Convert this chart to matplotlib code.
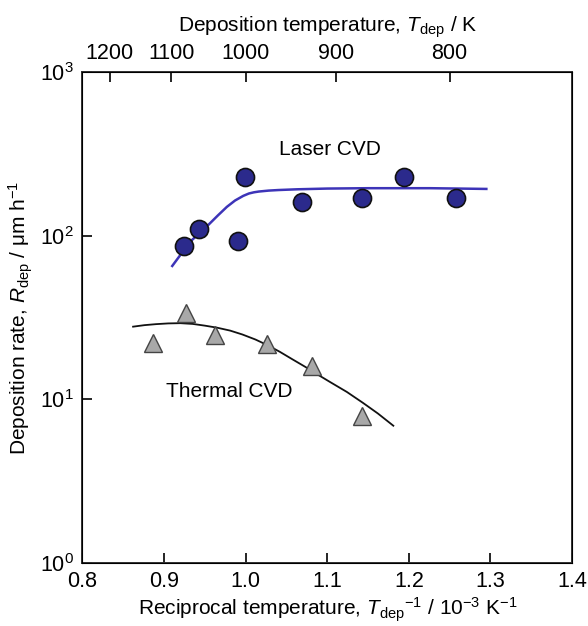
import numpy as np
import matplotlib
matplotlib.use("Agg")
import matplotlib.pyplot as plt

plt.rcParams['font.family'] = ['Liberation Sans', 'DejaVu Sans']
plt.rcParams['mathtext.fontset'] = 'custom'
plt.rcParams['mathtext.rm'] = 'Liberation Sans'
plt.rcParams['mathtext.it'] = 'Liberation Sans:italic'
plt.rcParams['mathtext.default'] = 'regular'
plt.rcParams['axes.unicode_minus'] = False

# Laser CVD data
laser_x = [0.925, 0.943, 0.990, 0.999, 1.069, 1.143, 1.194, 1.258]
laser_y = [86.5, 110, 93, 229, 161, 171, 229, 169]
laser_fit_x = [0.910, 0.932, 0.954, 0.966, 0.977, 0.987, 0.997, 1.004, 1.010, 1.016, 1.028, 1.040,
               1.063, 1.100, 1.150, 1.226, 1.295]
laser_fit_y = [65.3, 91.9, 116, 133, 150, 164, 175, 181, 184, 186, 188.5, 190,
               192, 194, 195, 195, 193]

# Thermal CVD data
thermal_x = [0.886, 0.927, 0.962, 1.026, 1.081, 1.143]
thermal_y = [22.0, 33.9, 24.7, 21.8, 16.0, 7.9]
thermal_fit_x = [0.862, 0.876, 0.890, 0.905, 0.920, 0.935, 0.950, 0.965, 0.981, 0.996,
                 1.012, 1.027, 1.042, 1.057, 1.073, 1.088, 1.103, 1.124, 1.144, 1.162, 1.181]
thermal_fit_y = [27.8, 28.4, 28.8, 29.1, 29.2, 28.9, 28.2, 27.4, 26.3, 24.9,
                 23.2, 21.4, 19.5, 17.6, 15.8, 14.2, 12.8, 11.1, 9.5, 8.2, 6.9]

top_ticks_K = [1200, 1100, 1000, 900, 800]
x_ticks = [0.8, 0.9, 1.0, 1.1, 1.2, 1.3, 1.4]

fig = plt.figure(figsize=(5.88, 6.26), dpi=100)
ax = fig.add_axes([0.1403, 0.1006, 0.8325, 0.7844])

ax.plot(laser_fit_x, laser_fit_y, color='#3d34b8', lw=1.8, zorder=2)
ax.plot(laser_x, laser_y, 'o', ms=13, mfc='#2b2a8c', mec='#111111', mew=1.2, zorder=3)
ax.plot(thermal_fit_x, thermal_fit_y, color='#111111', lw=1.3, zorder=2)
ax.plot(thermal_x, thermal_y, '^', ms=13, mfc='#a8a8a8', mec='#444444', mew=1.0, zorder=3)

ax.set_yscale('log')
ax.set_xlim(0.8, 1.4)
ax.set_ylim(1, 1000)
ax.set_xticks(x_ticks)
ax.set_xticklabels([f"{v:.1f}" for v in x_ticks])
ax.yaxis.set_minor_locator(matplotlib.ticker.NullLocator())
ax.tick_params(axis='both', which='major', direction='in', length=7, width=1.2,
               labelsize=15.5, pad=6)
for s in ax.spines.values():
    s.set_linewidth(1.4)
    s.set_color('#333333')

ax.set_xlabel(r"Reciprocal temperature, $\it{T}_{\rm{dep}}{}^{-1}$ / 10$^{-3}$ K$^{-1}$",
              fontsize=15, labelpad=2)
ax.set_ylabel(r"Deposition rate, $\it{R}_{\rm{dep}}$ / μm h$^{-1}$", fontsize=15, labelpad=4)

top = ax.twiny()
top.set_xlim(ax.get_xlim())
top.set_xticks([1000.0 / t for t in top_ticks_K])
top.set_xticklabels([str(t) for t in top_ticks_K])
top.tick_params(axis='x', direction='in', length=7, width=1.2, labelsize=15.5, pad=6)
top.set_xlabel(r"Deposition temperature, $\it{T}_{\rm{dep}}$ / K", fontsize=15, labelpad=8)

ax.text(1.103, 335, "Laser CVD", fontsize=15, ha='center', va='center')
ax.text(0.980, 11.1, "Thermal CVD", fontsize=15, ha='center', va='center')

fig.savefig("out.png", dpi=100)
